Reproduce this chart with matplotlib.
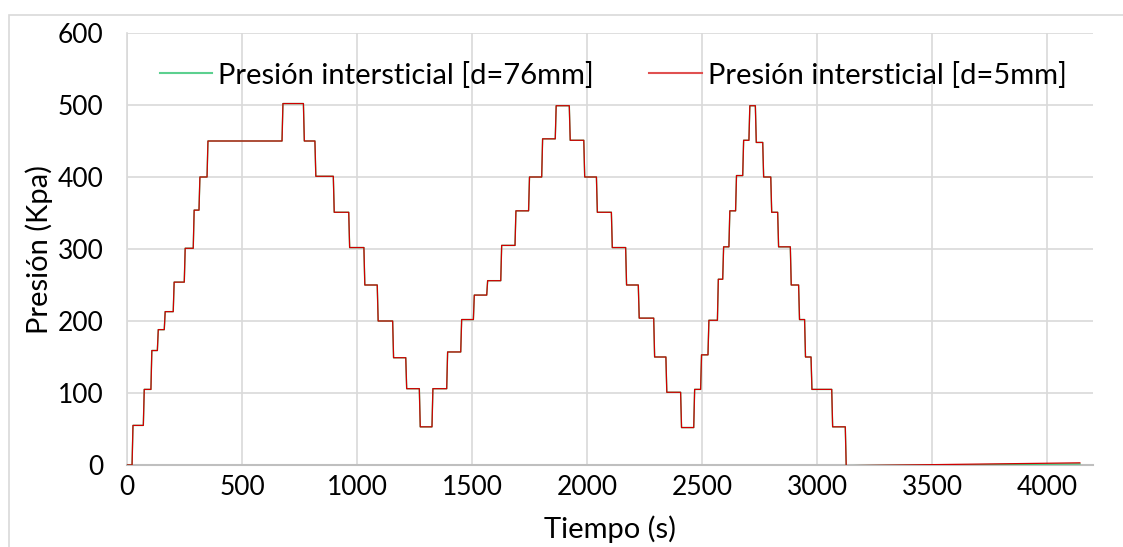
import matplotlib
matplotlib.use("Agg")
import matplotlib.pyplot as plt
from matplotlib.patches import Rectangle

# Load steps: start time of each stage (s) and pore pressure held (kPa)
tiempo_escalon = [0, 22, 71, 104, 132, 162, 201, 249, 288, 313, 348, 674, 767, 817,
                  897, 964, 1030, 1088, 1155, 1212, 1271, 1326, 1390, 1451, 1506, 1564,
                  1625, 1687, 1746, 1803, 1862, 1923, 1986, 2041, 2106, 2168, 2223, 2290,
                  2343, 2407, 2464, 2494, 2526, 2567, 2590, 2617, 2646, 2677, 2704, 2732,
                  2764, 2799, 2829, 2884, 2920, 2946, 2974, 3064, 3123]
presion_escalon = [0, 55, 105, 159, 188, 213, 254, 301, 354, 400, 450, 502, 450, 401,
                   351, 302, 250, 200, 149, 106, 53, 106, 157, 202, 236, 256,
                   305, 353, 400, 453, 499, 451, 400, 351, 302, 250, 204, 150,
                   101, 52, 105, 153, 201, 258, 303, 353, 402, 451, 499, 448,
                   400, 351, 303, 250, 202, 150, 105, 53, -1]
tiempo_final = 4143
presion_final_76 = 1.5
presion_final_5 = 3.0

serie_76 = "Presión intersticial [d=76mm]"
serie_5 = "Presión intersticial [d=5mm]"

x_ticks = [0, 500, 1000, 1500, 2000, 2500, 3000, 3500, 4000]
y_ticks = [0, 100, 200, 300, 400, 500, 600]

RAMPA = 4  # seconds taken by each pressure change


def trazo(tiempos, niveles, t_fin, p_fin):
    xs, ys = [tiempos[0]], [niveles[0]]
    for i in range(1, len(tiempos)):
        xs += [tiempos[i], tiempos[i] + RAMPA]
        ys += [niveles[i - 1], niveles[i]]
    xs.append(t_fin)
    ys.append(p_fin)
    return xs, ys


plt.rcParams["font.family"] = ["Lato", "DejaVu Sans"]

fig = plt.figure(figsize=(11.23, 5.47), dpi=100)
W, H = 1123, 547
ax = fig.add_axes([127 / W, 1 - 465 / H, (1093 - 127) / W, (465 - 33) / H])

x76, y76 = trazo(tiempo_escalon, presion_escalon, tiempo_final, presion_final_76)
x5, y5 = trazo(tiempo_escalon, presion_escalon, tiempo_final, presion_final_5)
ax.plot(x76, y76, color="#3CC97A", lw=1.0, label=serie_76, zorder=3)
ax.plot(x5, y5, color="#D00000", lw=0.9, label=serie_5, zorder=4)

ax.set_xlim(0, 4200)
ax.set_ylim(0, 600)
ax.set_xticks(x_ticks)
ax.set_yticks(y_ticks)
ax.grid(True, color="#D9D9D9", lw=1.2, zorder=0)
ax.set_axisbelow(True)
for s in ("top", "right"):
    ax.spines[s].set_visible(False)
ax.spines["left"].set_color("#D9D9D9")
ax.spines["left"].set_linewidth(1.2)
ax.spines["bottom"].set_color("#BFBFBF")
ax.spines["bottom"].set_linewidth(1.5)
ax.tick_params(length=0, labelsize=19, colors="black")
ax.tick_params(axis="x", pad=7)
ax.tick_params(axis="y", pad=17)

ax.set_xlabel("Tiempo (s)", fontsize=21)
ax.set_ylabel("Presión (Kpa)", fontsize=21)
ax.xaxis.set_label_coords(0.5, (465 - 529) / 432)
ax.xaxis.label.set_verticalalignment("center")
ax.yaxis.set_label_coords((39 - 127) / 966, 0.5)
ax.yaxis.label.set_verticalalignment("center")

leg = ax.legend(loc="center left", bbox_to_anchor=(0.034, (465 - 75) / 432), ncol=2,
                frameon=False, fontsize=21, handlelength=1.8, handletextpad=0.2,
                columnspacing=1.9, borderaxespad=0, borderpad=0)
for ln in leg.get_lines():
    ln.set_linewidth(1.5)
leg.get_lines()[0].set_color("#5CD08F")
leg.get_lines()[1].set_color("#E05050")

# chart-area frame
fig.patches.append(Rectangle((8.5 / W, -0.1), 1.2, 1.1 - 15 / H, transform=fig.transFigure,
                             fill=False, edgecolor="#D9D9D9", lw=1.2, zorder=-1))

fig.savefig("out.png", dpi=100)
